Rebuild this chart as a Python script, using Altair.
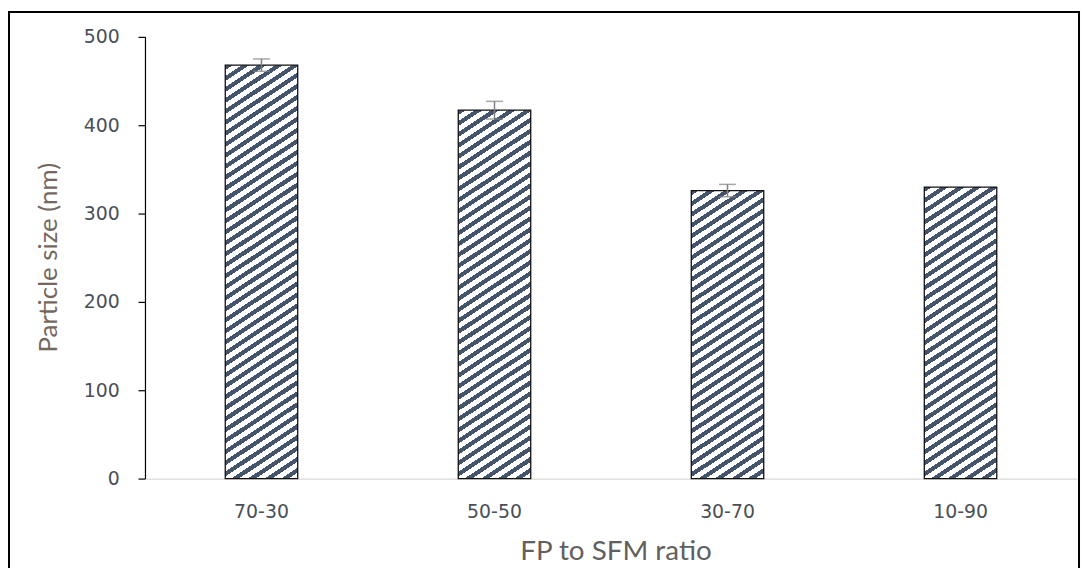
import altair as alt
import pandas as pd

# ---- data ----
ratios = ["70-30", "50-50", "30-70", "10-90"]
sizes = [468, 417, 326, 330]
errors = [7, 10, 7, 0]

df = pd.DataFrame({"ratio": ratios, "size": sizes, "err": errors})
df["low"] = df["size"] - df["err"]
df["high"] = df["size"] + df["err"]

# ---- layout / style ----
PW, PH = 939, 445
YMAX = 500
BAR_W = 73
STRIPE = "#44546A"
SLOPE = 0.66      # stripe rise per px
PV = 11.0         # vertical stripe period, px
DARK = 0.46       # dark fraction of a period


def hatch(value):
    H = value / YMAX * PH
    W = BAR_W
    a = SLOPE * W / H
    k = (a + 1) / (a * a + 1)
    n = max(1, int(round(H * (a + 1) / PV)))
    stops = []
    for j in range(n):
        o0 = j / n
        o1 = (j + DARK) / n
        o2 = (j + 1) / n
        stops += [
            {"offset": o0, "color": STRIPE},
            {"offset": o1, "color": STRIPE},
            {"offset": o1, "color": "#ffffff"},
            {"offset": o2, "color": "#ffffff"},
        ]
    return {"gradient": "linear", "x1": 0, "y1": 0, "x2": a * k, "y2": k, "stops": stops}


xenc = alt.X(
    "ratio:N",
    sort=ratios,
    scale=alt.Scale(paddingInner=0.689, paddingOuter=0.3445),
    axis=alt.Axis(
        title="FP to SFM ratio",
        labelAngle=0,
        ticks=False,
        tickSize=0,
        domainColor="#d9d9d9",
        domainWidth=1.2,
        labelFont="DejaVu Sans",
        labelFontSize=19,
        labelColor="#4a4f57",
        labelPadding=24,
        titleFont="Lato",
        titleFontSize=28,
        titleFontWeight="normal",
        titleColor="#62605e",
        titleX=474,
        titleY=74,
        titleBaseline="middle",
        titleAlign="center",
    ),
)

yenc = alt.Y(
    "size:Q",
    scale=alt.Scale(domain=[0, YMAX], nice=False),
    axis=alt.Axis(
        title="Particle size (nm)",
        values=[0, 100, 200, 300, 400, 500],
        grid=False,
        domainColor="#000000",
        domainWidth=1.2,
        tickColor="#000000",
        tickSize=7,
        tickWidth=1.2,
        labelFont="DejaVu Sans",
        labelFontSize=19,
        labelColor="#4a4f57",
        labelPadding=19,
        titleFont="Lato",
        titleFontSize=26,
        titleFontWeight="normal",
        titleColor="#74685e",
        titleAngle=-90,
        titleX=-97,
        titleY=222,
        titleBaseline="middle",
        titleAlign="center",
    ),
)

base = alt.Chart(df)

bars = [
    base.transform_filter(alt.datum.ratio == r)
    .mark_bar(fill=hatch(v), stroke="#111111", strokeWidth=1.3, size=BAR_W)
    .encode(x=xenc, y=yenc)
    for r, v in zip(ratios, sizes)
]

eb = base.transform_filter(alt.datum.err > 0)
err_rule = eb.mark_rule(color="#808080", strokeWidth=1.5).encode(
    x=alt.X("ratio:N", sort=ratios), y="low:Q", y2="high:Q"
)
cap_hi = eb.mark_tick(color="#808080", thickness=1.5, size=17, orient="horizontal").encode(
    x=alt.X("ratio:N", sort=ratios), y="high:Q"
)
cap_lo = eb.mark_tick(color="#808080", thickness=1.5, size=17, orient="horizontal").encode(
    x=alt.X("ratio:N", sort=ratios), y="low:Q"
)

frame = base.mark_rect(fill=None, stroke="#000000", strokeWidth=2, clip=False).encode(
    x=alt.value(-137), x2=alt.value(941), y=alt.value(-25), y2=alt.value(560)
)

chart = (
    alt.layer(frame, *bars, err_rule, cap_hi, cap_lo)
    .properties(
        width=PW,
        height=PH,
        autosize=alt.AutoSizeParams(type="none"),
        padding={"left": 138, "top": 27, "right": 4, "bottom": 88},
        background="#ffffff",
    )
    .configure_view(stroke=None)
)

chart.save("out.html", embed_options={"renderer": "svg", "actions": False})
